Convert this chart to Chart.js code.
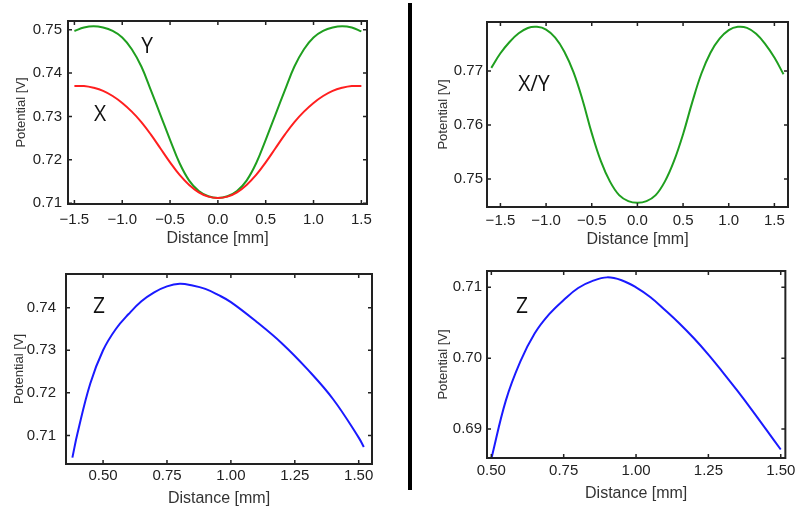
<!DOCTYPE html>
<html>
<head>
<meta charset="utf-8">
<script src="https://cdn.jsdelivr.net/npm/chart.js@4/dist/chart.umd.min.js"></script>
<style>
  html, body { margin: 0; padding: 0; background: #ffffff; }
  body { width: 799px; height: 508px; position: relative; overflow: hidden; }
  .panel { position: absolute; }
  .sep { position: absolute; left: 408px; top: 3px; width: 4px; height: 487px; background: #000; }
  .lbl { position: absolute; font-family: 'Open Sans', 'Noto Sans', sans-serif; font-size: 21px; color: #111; line-height: 1; transform: translate(-50%, -50%); white-space: nowrap; }
</style>
</head>
<body>
<div class="panel" style="left:0px;top:0px;width:380px;height:250px;"><canvas id="c1" width="380" height="250"></canvas></div>
<div class="panel" style="left:420px;top:0px;width:379px;height:250px;"><canvas id="c2" width="379" height="250"></canvas></div>
<div class="panel" style="left:0px;top:255px;width:380px;height:253px;"><canvas id="c3" width="380" height="253"></canvas></div>
<div class="panel" style="left:420px;top:255px;width:379px;height:253px;"><canvas id="c4" width="379" height="253"></canvas></div>
<div class="sep"></div>
<div class="lbl" style="left:147px;top:45px;">Y</div>
<div class="lbl" style="left:100px;top:113px;">X</div>
<div class="lbl" style="left:534px;top:83px;">X/Y</div>
<div class="lbl" style="left:99px;top:305px;">Z</div>
<div class="lbl" style="left:522px;top:305px;">Z</div>
<script>
// ---------- Data ----------
// Panel 1: X and Y potential profiles
const distanceXY = [-1.5, -1.4, -1.3, -1.2, -1.1, -1.0, -0.9, -0.8, -0.7, -0.6, -0.5, -0.4, -0.3, -0.2, -0.1, 0.0,
                    0.1, 0.2, 0.3, 0.4, 0.5, 0.6, 0.7, 0.8, 0.9, 1.0, 1.1, 1.2, 1.3, 1.4, 1.5];
const potentialY = [0.7497, 0.7505, 0.7508, 0.7505, 0.7497, 0.7482, 0.7455, 0.7415, 0.7360, 0.7303, 0.7246, 0.7192, 0.7152, 0.7128, 0.7116, 0.7112,
                    0.7116, 0.7128, 0.7152, 0.7192, 0.7246, 0.7303, 0.7360, 0.7415, 0.7455, 0.7482, 0.7497, 0.7505, 0.7508, 0.7505, 0.7496];
const potentialX = [0.7370, 0.7370, 0.7366, 0.7359, 0.7347, 0.7331, 0.7311, 0.7287, 0.7258, 0.7226, 0.7194, 0.7165, 0.7142, 0.7125, 0.7115, 0.7112,
                    0.7115, 0.7125, 0.7142, 0.7165, 0.7194, 0.7226, 0.7258, 0.7287, 0.7311, 0.7331, 0.7347, 0.7359, 0.7366, 0.7370, 0.7370];

// Panel 2: X/Y diagonal profile
const distanceXYdiag = [-1.6, -1.5, -1.4, -1.3, -1.2, -1.1, -1.0, -0.9, -0.8, -0.7, -0.6, -0.5, -0.4, -0.3, -0.2, -0.1, 0.0,
                        0.1, 0.2, 0.3, 0.4, 0.5, 0.6, 0.7, 0.8, 0.9, 1.0, 1.1, 1.2, 1.3, 1.4, 1.5, 1.6];
const potentialXYdiag = [0.7706, 0.7733, 0.7754, 0.7770, 0.7780, 0.7782, 0.7777, 0.7762, 0.7736, 0.7698, 0.7646, 0.7585, 0.7533, 0.7495, 0.7470, 0.7459, 0.7456,
                         0.7459, 0.7470, 0.7495, 0.7533, 0.7583, 0.7642, 0.7695, 0.7734, 0.7760, 0.7776, 0.7782, 0.7780, 0.7769, 0.7750, 0.7725, 0.7694];

// Panel 3: Z profile (left)
const distanceZ1 = [0.38, 0.40, 0.45, 0.50, 0.55, 0.60, 0.65, 0.70, 0.75, 0.80, 0.85, 0.90, 0.95, 1.00, 1.10, 1.20, 1.30, 1.40, 1.50, 1.52];
const potentialZ1 = [0.7048, 0.7105, 0.7222, 0.7300, 0.7350, 0.7385, 0.7415, 0.7436, 0.7450, 0.7456, 0.7452, 0.7444, 0.7430, 0.7413, 0.7367, 0.7316, 0.7255, 0.7185, 0.7095, 0.7073];

// Panel 4: Z profile (right)
const distanceZ2 = [0.50, 0.55, 0.60, 0.65, 0.70, 0.75, 0.80, 0.85, 0.90, 0.95, 1.00, 1.05, 1.10, 1.15, 1.20, 1.25, 1.30, 1.35, 1.40, 1.45, 1.50];
const potentialZ2 = [0.6858, 0.6940, 0.6995, 0.7035, 0.7062, 0.7082, 0.7099, 0.7109, 0.7114, 0.7110, 0.7100, 0.7086, 0.7068, 0.7049, 0.7028, 0.7005, 0.6980, 0.6954, 0.6927, 0.6899, 0.6871];

// Tick values
const ticksX1 = [-1.5, -1.0, -0.5, 0.0, 0.5, 1.0, 1.5];
const ticksY1 = [0.71, 0.72, 0.73, 0.74, 0.75];
const ticksX2 = [-1.5, -1.0, -0.5, 0.0, 0.5, 1.0, 1.5];
const ticksY2 = [0.75, 0.76, 0.77];
const ticksX3 = [0.50, 0.75, 1.00, 1.25, 1.50];
const ticksY3 = [0.71, 0.72, 0.73, 0.74];
const ticksX4 = [0.50, 0.75, 1.00, 1.25, 1.50];
const ticksY4 = [0.69, 0.70, 0.71];

const xTitle = 'Distance [mm]';
const yTitle = 'Potential [V]';

// ---------- Rendering ----------
const FONT = "'Liberation Sans', Arial, sans-serif";
const pts = (xs, ys) => xs.map((x, i) => ({ x: x, y: ys[i] }));
const fmt = (d) => (v) => { const s = Math.abs(v).toFixed(d); return v < -1e-9 ? '\u2212' + s : s; };

const framePlugin = {
  id: 'frame',
  afterDatasetsDraw(chart) {
    const { ctx, chartArea: a } = chart;
    ctx.save();
    ctx.strokeStyle = '#222';
    ctx.lineWidth = 1.5;
    const tl = 4;
    chart.scales.x.ticks.forEach(t => {
      const px = chart.scales.x.getPixelForValue(t.value);
      ctx.beginPath();
      ctx.moveTo(px, a.bottom); ctx.lineTo(px, a.bottom - tl);
      ctx.moveTo(px, a.top); ctx.lineTo(px, a.top + tl);
      ctx.stroke();
    });
    chart.scales.y.ticks.forEach(t => {
      const py = chart.scales.y.getPixelForValue(t.value);
      ctx.beginPath();
      ctx.moveTo(a.left, py); ctx.lineTo(a.left + tl, py);
      ctx.moveTo(a.right, py); ctx.lineTo(a.right - tl, py);
      ctx.stroke();
    });
    ctx.lineWidth = 2;
    ctx.strokeRect(a.left, a.top, a.right - a.left, a.bottom - a.top);
    ctx.restore();
  }
};

function makeChart(id, datasets, cfg) {
  return new Chart(document.getElementById(id), {
    type: 'line',
    data: { datasets: datasets.map(d => ({
      data: d.data, borderColor: d.color, borderWidth: 2, pointRadius: 0,
      fill: false, tension: 0.4
    })) },
    options: {
      responsive: false, animation: false, devicePixelRatio: 1,
      layout: { padding: { left: 0, top: cfg.padT, right: cfg.padR, bottom: 0 } },
      plugins: { legend: { display: false }, tooltip: { enabled: false } },
      scales: {
        x: {
          type: 'linear', min: cfg.xMin, max: cfg.xMax,
          grid: { display: false, drawTicks: false }, border: { display: false },
          afterBuildTicks: s => { s.ticks = cfg.xTicks.map(v => ({ value: v })); },
          afterFit: s => { s.height = cfg.xH; },
          ticks: { callback: fmt(cfg.xDec), color: '#222', padding: cfg.xPad, maxRotation: 0, autoSkip: false,
                   font: { family: FONT, size: 15 } },
          title: { display: true, text: xTitle, color: '#333', font: { family: FONT, size: 16 },
                   padding: { top: 0, bottom: cfg.xTitlePad } }
        },
        y: {
          type: 'linear', min: cfg.yMin, max: cfg.yMax,
          grid: { display: false, drawTicks: false }, border: { display: false },
          afterBuildTicks: s => { s.ticks = cfg.yTicks.map(v => ({ value: v })); },
          afterFit: s => { s.width = cfg.yW; },
          ticks: { callback: fmt(2), color: '#222', padding: cfg.yPad, autoSkip: false,
                   font: { family: FONT, size: 15 } },
          title: { display: true, text: yTitle, color: '#333', font: { family: FONT, size: 13 },
                   padding: { top: cfg.yTitlePad, bottom: 0 } }
        }
      }
    },
    plugins: [framePlugin]
  });
}

makeChart('c1', [
  { data: pts(distanceXY, potentialX), color: '#ff1f1f' },
  { data: pts(distanceXY, potentialY), color: '#1f9f1f' }
], { xMin: -1.567, xMax: 1.559, yMin: 0.7098, yMax: 0.752, xTicks: ticksX1, yTicks: ticksY1, xDec: 1,
     padT: 21, padR: 13, yW: 68, xH: 46, xPad: 7, yPad: 6, xTitlePad: 1.4, yTitlePad: 14 });

makeChart('c2', [
  { data: pts(distanceXYdiag, potentialXYdiag), color: '#1f9f1f' }
], { xMin: -1.647, xMax: 1.649, yMin: 0.7448, yMax: 0.7791, xTicks: ticksX2, yTicks: ticksY2, xDec: 1,
     padT: 22, padR: 11, yW: 67, xH: 43, xPad: 4.5, yPad: 4, xTitlePad: 0.4, yTitlePad: 15.5 });

makeChart('c3', [
  { data: pts(distanceZ1, potentialZ1), color: '#1a1aff' }
], { xMin: 0.355, xMax: 1.552, yMin: 0.7033, yMax: 0.7479, xTicks: ticksX3, yTicks: ticksY3, xDec: 2,
     padT: 15, padR: 8, yW: 66, xH: 44, xPad: 2.5, yPad: 10, xTitlePad: 0, yTitlePad: 12 });

makeChart('c4', [
  { data: pts(distanceZ2, potentialZ2), color: '#1a1aff' }
], { xMin: 0.485, xMax: 1.516, yMin: 0.6859, yMax: 0.7123, xTicks: ticksX4, yTicks: ticksY4, xDec: 2,
     padT: 16, padR: 11, yW: 67, xH: 50, xPad: 3.5, yPad: 5, xTitlePad: 5.1, yTitlePad: 15.5 });
</script>
</body>
</html>
